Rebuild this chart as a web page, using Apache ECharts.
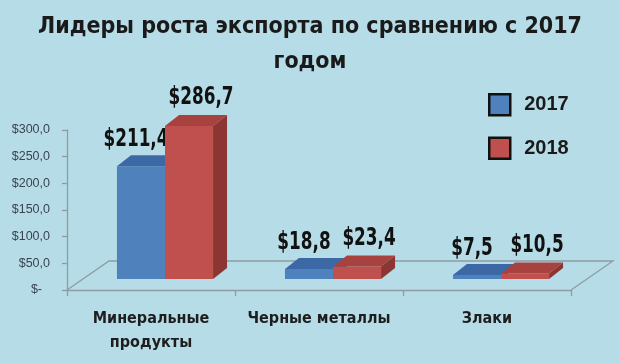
<!DOCTYPE html>
<html>
<head>
<meta charset="utf-8">
<script src="https://cdn.jsdelivr.net/npm/echarts@6/dist/echarts.min.js"></script>
<style>
html,body{margin:0;padding:0;background:#b6dde7;}
#c{width:620px;height:363px;}
</style>
</head>
<body>
<div id="c"></div>
<script>
const categories = ['Минеральные\nпродукты', 'Черные металлы', 'Злаки'];
const years = ['2017', '2018'];
const values2017 = [211.4, 18.8, 7.5];
const values2018 = [286.7, 23.4, 10.5];
const yMin = 0, yMax = 300, yStep = 50;

const COND = '"Liberation Sans Narrow", "DejaVu Sans Condensed", "Roboto", sans-serif';
const DX = 14, DY = -11;      // bar placement within floor depth
const TX = 14, TY = -11;      // bar top/side depth
const FX = 42, FY = -29;      // floor depth
const AXIS_COLOR = '#8d9ca3';

function fmt(v) { return '$' + v.toFixed(1).replace('.', ','); }

const palettes = [
  { front: '#4f81bd', top: '#3d68a6', side: '#355d90', lx: -5, ly: 6 },
  { front: '#c0504d', top: '#a8423f', side: '#8c3633', lx: 12, ly: 8 }
];

function barSeries(name, values, k) {
  const pal = palettes[k];
  return {
    type: 'custom',
    name: name,
    data: values.map((v, i) => [i, v]),
    encode: { x: 0, y: 1 },
    itemStyle: { color: pal.front },
    z: 3 + k,
    renderItem: function (params, api) {
      const ci = api.value(0), v = api.value(1);
      const p = api.coord([ci, v]);
      const b = api.coord([ci, 0]);
      const band = api.size([1, 0])[0];
      const w = band * 0.286;
      const x = p[0] - w + k * w + DX;
      const yt = p[1] + DY, yb = b[1] + DY;
      const lxc = x + w / 2 + pal.lx;
      const lyc = yt + TY - pal.ly - 9;
      return {
        type: 'group',
        children: [
          { type: 'rect', shape: { x: x, y: yt, width: w, height: yb - yt }, style: { fill: pal.front } },
          { type: 'polygon', shape: { points: [[x, yt], [x + TX, yt + TY], [x + w + TX, yt + TY], [x + w, yt]] }, style: { fill: pal.top } },
          { type: 'polygon', shape: { points: [[x + w, yt], [x + w + TX, yt + TY], [x + w + TX, yb + TY], [x + w, yb]] }, style: { fill: pal.side } },
          { type: 'text', z2: 10,
            x: lxc, y: lyc, scaleX: 0.78,
            style: {
              text: fmt(v), x: 0, y: 0,
              align: 'center', verticalAlign: 'middle',
              font: 'bold 24px ' + COND, fill: '#111111'
          } }
        ]
      };
    }
  };
}

const floorSeries = {
  type: 'custom',
  name: 'floor',
  silent: true,
  z: 1,
  data: [[0, 0]],
  encode: { x: 0, y: 1 },
  renderItem: function (params, api) {
    const cs = params.coordSys;
    const x0 = cs.x, x1 = cs.x + cs.width, yb = cs.y + cs.height;
    return {
      type: 'polyline',
      shape: { points: [[x0, yb], [x0 + FX, yb + FY], [x1 + FX, yb + FY], [x1, yb]] },
      style: { stroke: AXIS_COLOR, lineWidth: 1.3, fill: null }
    };
  }
};

const chart = echarts.init(document.getElementById('c'), null, { renderer: 'canvas' });
chart.setOption({
  backgroundColor: '#b6dde7',
  animation: false,
  title: {
    text: 'Лидеры роста экспорта по сравнению с 2017\nгодом',
    left: 'center', top: 5,
    textStyle: { fontFamily: COND, fontWeight: 'bold', fontSize: 23, lineHeight: 35, color: '#1a1a1a' }
  },
  legend: {
    data: years.map(y => ({ name: y, icon: 'rect' })),
    orient: 'vertical',
    left: 483, top: 88,
    itemWidth: 21, itemHeight: 21, itemGap: 20,
    itemStyle: { borderColor: '#111', borderWidth: 2.5 },
    textStyle: { fontFamily: '"Liberation Sans", Arial, sans-serif', fontWeight: 'bold', fontSize: 20, color: '#1a1a1a', padding: [0, 0, 0, 9] }
  },
  grid: { left: 67, right: 49, top: 130, bottom: 73, containLabel: false },
  xAxis: {
    type: 'category',
    data: categories,
    boundaryGap: true,
    axisLine: { lineStyle: { color: AXIS_COLOR, width: 1.3 } },
    axisTick: { show: true, length: 6, lineStyle: { color: AXIS_COLOR, width: 1.3 } },
    axisLabel: { margin: 17, fontFamily: COND, fontWeight: 'bold', fontSize: 16, lineHeight: 24, color: '#1e1e1e', interval: 0 }
  },
  yAxis: {
    type: 'value',
    min: yMin, max: yMax, interval: yStep,
    splitLine: { show: false },
    axisLine: { show: true, lineStyle: { color: AXIS_COLOR, width: 1.3 } },
    axisTick: { show: true, length: 5, lineStyle: { color: AXIS_COLOR, width: 1.3 } },
    axisLabel: {
      margin: 17,
      fontFamily: '"Liberation Sans", Arial, sans-serif', fontSize: 12.5, color: '#3b4350',
      formatter: function (v) { return v === 0 ? '{d|$-}' : fmt(v); },
      rich: { d: { fontFamily: '"Liberation Sans", Arial, sans-serif', fontSize: 12.5, color: '#3b4350', padding: [0, 8, 0, 0] } }
    }
  },
  series: [floorSeries, barSeries(years[0], values2017, 0), barSeries(years[1], values2018, 1)]
});
</script>
</body>
</html>
